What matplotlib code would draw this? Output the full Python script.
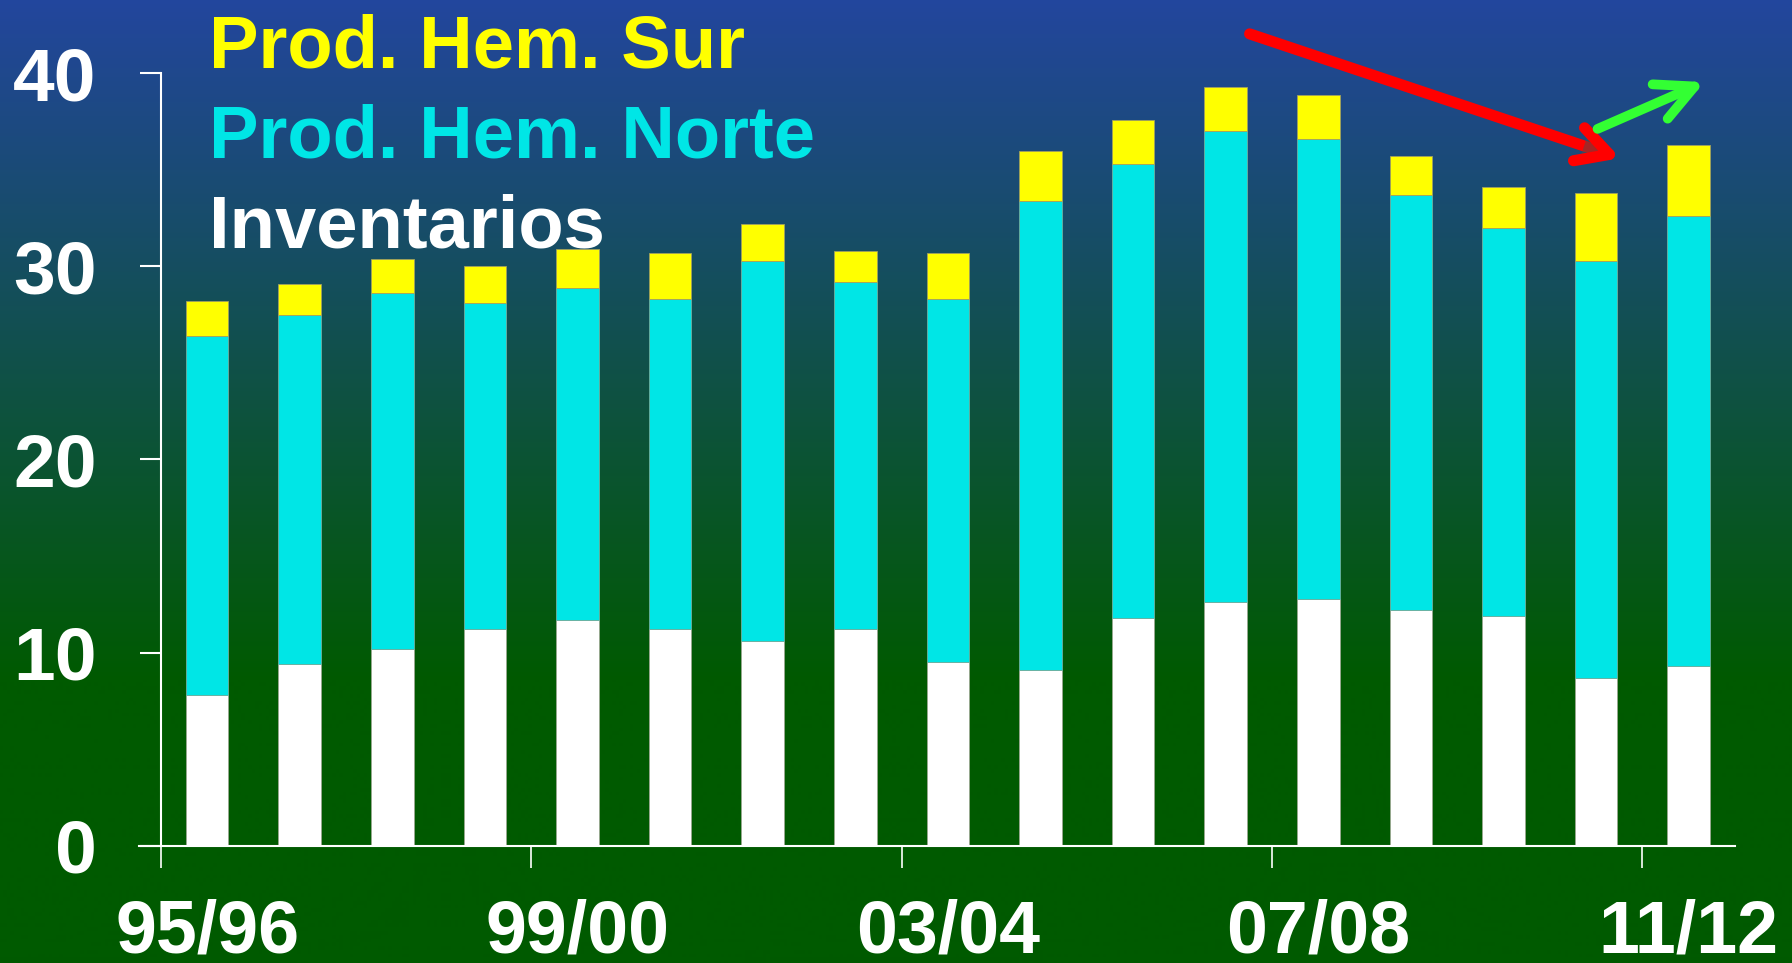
import matplotlib
matplotlib.use("Agg")
import matplotlib.pyplot as plt
import matplotlib.patheffects as pe
import numpy as np

# campaign years and stacked values (million t)
years = ["95/96", "96/97", "97/98", "98/99", "99/00", "00/01", "01/02", "02/03",
         "03/04", "04/05", "05/06", "06/07", "07/08", "08/09", "09/10", "10/11", "11/12"]
inventarios = [7.8, 9.4, 10.2, 11.2, 11.7, 11.2, 10.6, 11.2, 9.5, 9.1, 11.8, 12.6, 12.8, 12.2, 11.9, 8.7, 9.3]
prod_norte = [18.6, 18.1, 18.4, 16.9, 17.2, 17.1, 19.7, 18.0, 18.8, 24.3, 23.5, 24.4, 23.8, 21.5, 20.1, 21.6, 23.3]
prod_sur = [1.8, 1.6, 1.8, 1.9, 2.0, 2.4, 1.9, 1.6, 2.4, 2.6, 2.3, 2.3, 2.3, 2.0, 2.1, 3.5, 3.7]

yticks = [0, 10, 20, 30, 40]
xlabel_idx = [0, 4, 8, 12, 16]

W, H = 1792, 963
fig = plt.figure(figsize=(W / 100, H / 100), dpi=100)

# background gradient blue -> green
bg = fig.add_axes([0, 0, 1, 1], zorder=-10)
top = np.array([35, 70, 158]) / 255.0
bot = np.array([0, 90, 0]) / 255.0
rows = np.arange(H)
t = np.clip(rows / 680.0, 0, 1)[:, None]
grad = top * (1 - t) + bot * t
bg.imshow(np.repeat(grad[:, None, :], 2, axis=1), aspect="auto", extent=[0, 1, 0, 1])
bg.set_axis_off()

ax = fig.add_axes([139 / W, 1 - 845.7 / H, (1735 - 139) / W, (845.7 - 73.3) / H])
ax.patch.set_alpha(0)

x = np.arange(len(years))
inv = np.array(inventarios)
nor = np.array(prod_norte)
sur = np.array(prod_sur)
bw = 0.46
ax.bar(x, inv, bw, color="white", edgecolor="#9aa890", linewidth=0.6)
ax.bar(x, nor, bw, bottom=inv, color="#00E6E6", edgecolor="#6fb0a0", linewidth=0.6)
ax.bar(x, sur, bw, bottom=inv + nor, color="#FFFF00", edgecolor="#a0a060", linewidth=0.6)

ax.set_xlim(-0.735, 16.5)
ax.set_ylim(0, 40)

for s in ["top", "right"]:
    ax.spines[s].set_visible(False)
ax.spines["left"].set_position(("data", -0.5))
for s in ["left", "bottom"]:
    ax.spines[s].set_color("white")
    ax.spines[s].set_linewidth(1.5)

ax.set_yticks(yticks)
ax.set_yticklabels([str(v) for v in yticks])
ax.tick_params(axis="y", colors="white", length=15, width=1.5, pad=31,
               labelsize=54)
for lab in ax.get_yticklabels():
    lab.set_fontweight("bold")
    lab.set_fontfamily("Liberation Sans")

ax.set_xticks([i - 0.5 for i in xlabel_idx])
ax.set_xticklabels([])
ax.tick_params(axis="x", which="major", colors="white", length=16, width=1.2)
ax.set_xticks(xlabel_idx, minor=True)
ax.set_xticklabels([years[i] for i in xlabel_idx], minor=True)
ax.tick_params(axis="x", which="minor", colors="white", length=0, pad=38, labelsize=53)
for lab in ax.get_xticklabels(minor=True):
    lab.set_fontweight("bold")
    lab.set_fontfamily("Liberation Sans")

# legend text
legend = [("Prod. Hem. Sur", "#FFFF00", 67), ("Prod. Hem. Norte", "#00E6E6", 157),
          ("Inventarios", "white", 247)]
for txt, col, yb in legend:
    fig.text(209 / W, 1 - yb / H, txt, color=col, fontsize=53.5, fontweight="bold",
             family="Liberation Sans", va="baseline", ha="left")

# trend arrows
shadow = [pe.SimplePatchShadow(offset=(3, -3), alpha=0.5), pe.Normal()]
ax.annotate("", xy=(1623, H - 159), xytext=(1247, H - 33),
            xycoords="figure pixels", textcoords="figure pixels",
            arrowprops=dict(arrowstyle="->,head_length=23,head_width=12.5",
                            mutation_scale=1, color="#FF0000", lw=8,
                            capstyle="round", joinstyle="round",
                            path_effects=shadow))
ax.annotate("", xy=(1707, H - 81), xytext=(1595, H - 130),
            xycoords="figure pixels", textcoords="figure pixels",
            arrowprops=dict(arrowstyle="->,head_length=27,head_width=13.5",
                            mutation_scale=1, color="#33FF33", lw=7,
                            capstyle="round", joinstyle="round"))

fig.savefig("out.png", dpi=100)
